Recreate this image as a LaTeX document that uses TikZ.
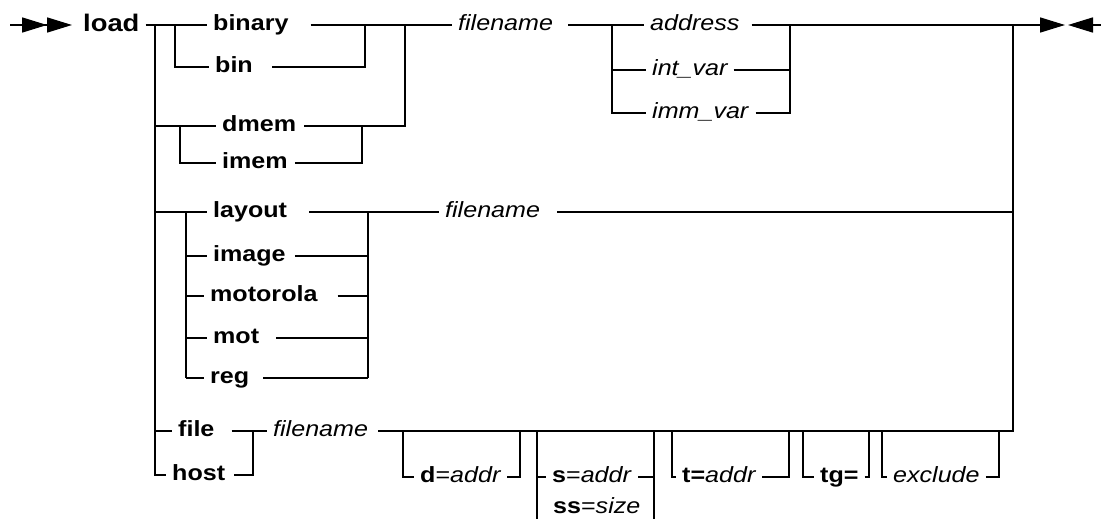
\documentclass[tikz,border=0pt]{standalone}
\usepackage{fontspec}
\setmainfont{Liberation Sans}[FakeStretch=1.14]
\usetikzlibrary{arrows.meta}

\begin{document}
\begin{tikzpicture}[x=1pt,y=-1pt,
  rail/.style={line width=1.6pt},
  lbl/.style={anchor=west,inner xsep=6pt,inner ysep=0pt,text height=15.8pt,text depth=4.6pt,
    font=\fontsize{22}{26}\selectfont},
  kw/.style={lbl,font=\fontsize{22}{26}\selectfont\bfseries},
  var/.style={lbl,font=\fontsize{22}{26}\selectfont\itshape},
  tip/.style={-{Triangle[length=25pt,width=15pt]}},
]
\useasboundingbox (0,0) rectangle (1101,519);

% entry and exit
\coordinate (in) at (10,25);
\coordinate (out) at (1065,25);
\coordinate (stop) at (1101,25);
\coordinate (stopin) at (1068,25);

% first row
\node[kw]  (load)    at (77,26)   {\fontsize{24}{28}\selectfont load};
\node[kw]  (binary)  at (207,25)  {binary};
\node[kw]  (bin)     at (209,67)  {bin};
\node[kw]  (dmem)    at (216,126) {dmem};
\node[kw]  (imem)    at (216,163) {imem};
\node[var] (fn1)     at (452,25)  {filename};
\node[var] (address) at (644,25)  {address};
\node[var] (intvar)  at (646,70)  {int\_var};
\node[var] (immvar)  at (646,113) {imm\_var};

\draw[rail,-{Triangle[length=25pt,width=15pt]Triangle[length=25pt,width=15pt]},shorten >=5pt]
  (in) -- (in -| load.west);
\draw[rail] (load.east |- binary.west) -- (binary.west);
\draw[rail] ([xshift=16pt]binary.east) -- (fn1.west);
\draw[rail] ([xshift=9pt]fn1.east) -- (address.west);
\draw[rail,tip] ([xshift=6pt]address.east) -- (out);
\draw[rail,tip] (stop) -- (stopin);

\draw[rail] (175,25) |- (bin.west);
\draw[rail] ([xshift=13pt]bin.east) -| (365,25);
\draw[rail] (155,126) -- (dmem.west);
\draw[rail] ([xshift=2pt]dmem.east) -| (405,25);
\draw[rail] (180,126) |- (imem.west);
\draw[rail] ([xshift=1pt]imem.east) -| (362,126);

\draw[rail] (612,25) |- (immvar.west);
\draw[rail] (612,70) -- (intvar.west);
\draw[rail] (intvar.east) -- (790,70);
\draw[rail] ([xshift=1pt]immvar.east) -| (790,25);

% layout group
\node[kw]  (layout) at (207,212) {layout};
\node[var] (fn2)    at (439,212) {filename};
\draw[rail] (155,212) -- (layout.west);
\draw[rail] ([xshift=16pt]layout.east) -- (fn2.west);
\draw[rail] ([xshift=11pt]fn2.east) -- (1013,212);
\foreach \name/\y/\xs/\gap in {image/256/207/3, motorola/296/204/14, mot/338/207/11, reg/378/204/8} {
  \node[kw] (\name) at (\xs,\y) {\name};
  \draw[rail] (186,\y) -- (\name.west);
  \draw[rail] ([xshift=\gap pt]\name.east) -- (368,\y);
}
\draw[rail] (186,212) -- (186,378);
\draw[rail] (368,212) -- (368,378);

% file / host group
\node[kw]  (file) at (172,431) {file};
\node[kw]  (host) at (166,475) {host};
\node[var] (fn3)  at (267,431) {filename};
\draw[rail] (155,25) |- (host.west);
\draw[rail] (155,431) -- (file.west);
\draw[rail] ([xshift=11pt]file.east) -- (fn3.west);
\draw[rail] ([xshift=3pt]host.east) -| (253,431);
\draw[rail] ([xshift=4pt]fn3.east) -- (1013,431) -- (1013,25);

% options hanging below
\foreach \name/\txt/\xl/\xs/\xr in {dopt/{\textbf{d}=\textit{addr}}/403/420/520,
    sopt/{\textbf{s}=\textit{addr}}/537/552/654,
    topt/{\textbf{t=}\textit{addr}}/672/682/789,
    tgopt/{\textbf{tg=}}/803/820/869,
    exopt/{\textit{exclude}}/882/893/999} {
  \node[lbl] (\name) at (\xs-6,477) {\txt};
  \draw[rail] (\xl,431) |- (\name.west);
  \draw[rail] (\name.east) -| (\xr,431);
}
\node[lbl] (ssopt) at (547,508) {\textbf{ss}=\textit{size}};
\draw[rail] (537,477) -- (537,525);
\draw[rail] (654,477) -- (654,525);
\end{tikzpicture}
\end{document}
